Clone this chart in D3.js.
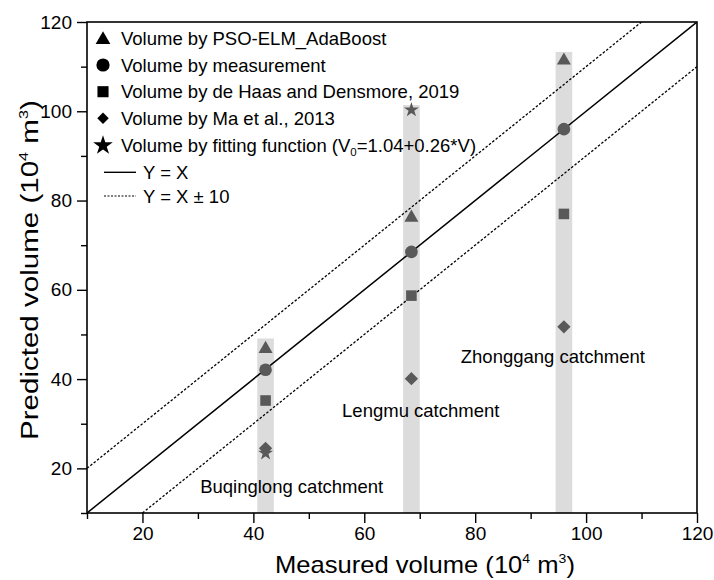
<!DOCTYPE html>
<html>
<head>
<meta charset="utf-8">
<script src="https://cdn.jsdelivr.net/npm/d3@7"></script>
<style>
  body { margin: 0; background: #fff; }
  svg { display: block; }
  text { font-family: "Liberation Sans", Arial, sans-serif; }
</style>
</head>
<body>
<svg id="chart" width="714" height="580"></svg>
<script>
// ---- data ----
const catchments = ["Buqinglong", "Lengmu", "Zhonggang"];
const catchmentLabels = ["Buqinglong catchment", "Lengmu catchment", "Zhonggang catchment"];
const measuredX = [42.2, 68.5, 96.0];
const psoElmAdaBoost = [47.1, 76.5, 111.7];
const measurement = [42.1, 68.5, 96.0];
const deHaas2019 = [35.2, 58.7, 77.0];
const ma2013 = [24.5, 40.1, 51.7];
const fittingFunction = [23.4, 100.3, null];
const barTop = [49.1, 101.4, 113.3];
const labelPos = [[30.4, 14.5], [56.0, 31.5], [77.4, 43.6]]; // data-space anchors (left, baseline) of catchment labels
const xTicksMajor = [20, 40, 60, 80, 100, 120];
const xTicksMinor = [10, 30, 50, 70, 90, 110];
const yTicksMajor = [20, 40, 60, 80, 100, 120];
const yTicksMinor = [10, 30, 50, 70, 90, 110];
const legendItems = [
  {type: "triangle", text: "Volume by PSO-ELM_AdaBoost"},
  {type: "circle", text: "Volume by measurement"},
  {type: "square", text: "Volume by de Haas and Densmore, 2019"},
  {type: "diamond", text: "Volume by Ma et al., 2013"},
  {type: "star", text: "fit"},
  {type: "solid", text: "Y = X"},
  {type: "dotted", text: "Y = X \u00B1 10"}
];

// ---- layout ----
const svg = d3.select("#chart");
const L = 87, R = 697, T = 22, B = 513;
const x = d3.scaleLinear().domain([10, 120]).range([L, R]);
const y = d3.scaleLinear().domain([10, 120]).range([B, T]);
const markerColor = "#595959";
const barColor = "#dcdcdc";
const FS = 18.5;

const g = svg.append("g");
g.append("clipPath").attr("id", "clip").append("rect")
  .attr("x", L).attr("y", T).attr("width", R - L).attr("height", B - T);

// gray bars
g.selectAll("rect.bar").data(measuredX).enter().append("rect")
  .attr("class", "bar")
  .attr("x", (d) => x(d - 1.5))
  .attr("width", (d) => x(d + 1.5) - x(d - 1.5))
  .attr("y", (d, i) => y(barTop[i]))
  .attr("height", (d, i) => y(10) - y(barTop[i]))
  .attr("fill", barColor);

// reference lines
const lines = [
  {pts: [[10, 10], [120, 120]], dash: null},
  {pts: [[10, 20], [110, 120]], dash: "2.5,1.8"},
  {pts: [[20, 10], [120, 110]], dash: "2.5,1.8"}
];
lines.forEach(l => {
  g.append("line")
    .attr("x1", x(l.pts[0][0])).attr("y1", y(l.pts[0][1]))
    .attr("x2", x(l.pts[1][0])).attr("y2", y(l.pts[1][1]))
    .attr("stroke", "#000").attr("stroke-width", l.dash ? 1.3 : 1.5)
    .attr("stroke-dasharray", l.dash)
    .attr("clip-path", "url(#clip)");
});

// markers
function symbolPath(type, s) {
  switch (type) {
    case "triangle": return d3.symbol(d3.symbolTriangle, 85 * s)();
    case "circle": return d3.symbol(d3.symbolCircle, 125 * s)();
    case "square": return d3.symbol(d3.symbolSquare, 112 * s)();
    case "diamond": return d3.symbol(d3.symbolSquare, 88 * s)();
    case "star": return d3.symbol(d3.symbolStar, 70 * s)();
  }
}
const series = [
  {type: "triangle", vals: psoElmAdaBoost},
  {type: "circle", vals: measurement},
  {type: "square", vals: deHaas2019},
  {type: "diamond", vals: ma2013},
  {type: "star", vals: fittingFunction}
];
series.forEach(s => {
  s.vals.forEach((v, i) => {
    if (v == null) return;
    const rot = s.type === "diamond" ? " rotate(45)" : "";
    const dy = s.type === "triangle" ? 1.5 : 0;
    g.append("path")
      .attr("d", symbolPath(s.type, 1))
      .attr("transform", `translate(${x(measuredX[i])},${y(v) + dy})${rot}`)
      .attr("fill", markerColor);
  });
});

// axes frame
svg.append("rect").attr("x", L).attr("y", T).attr("width", R - L).attr("height", B - T)
  .attr("fill", "none").attr("stroke", "#000").attr("stroke-width", 1.6);

svg.append("g").attr("transform", `translate(0,${B})`)
  .call(d3.axisBottom(x).tickValues(xTicksMajor).tickSize(10).tickPadding(4).tickFormat(d3.format("d")));
svg.append("g").attr("transform", `translate(0,${B})`)
  .call(d3.axisBottom(x).tickValues(xTicksMinor).tickSize(6).tickFormat(""));
svg.append("g").attr("transform", `translate(${L},0)`)
  .call(d3.axisLeft(y).tickValues(yTicksMajor).tickSize(10).tickPadding(5).tickFormat(d3.format("d")));
svg.append("g").attr("transform", `translate(${L},0)`)
  .call(d3.axisLeft(y).tickValues(yTicksMinor).tickSize(6).tickFormat(""));
svg.selectAll(".domain").remove();
svg.selectAll(".tick line").attr("stroke", "#000").attr("stroke-width", 1.4);
svg.selectAll(".tick text").attr("font-size", 19).attr("fill", "#000")
  .style("font-family", "'Liberation Sans', Arial, sans-serif");

// axis titles
function titleText(sel, fs, label) {
  sel.attr("font-size", fs).attr("fill", "#000");
  sel.append("tspan").text(label + " (10");
  sel.append("tspan").text("4").attr("font-size", fs * 0.55).attr("dy", -fs * 0.42);
  sel.append("tspan").text(" m").attr("dy", fs * 0.42);
  sel.append("tspan").text("3").attr("font-size", fs * 0.55).attr("dy", -fs * 0.42);
  sel.append("tspan").text(")").attr("dy", fs * 0.42);
  return sel;
}
// x title: centred at 425, width ~300
const xg = svg.append("g");
const xt = titleText(xg.append("text"), 24, "Measured volume");
let bb = xt.node().getBBox();
let sx = 300 / bb.width;
xg.attr("transform", `translate(425,573) scale(${sx},1) translate(${-(bb.x + bb.width / 2)},0)`);

// y title: centred at y=270, length ~340
const yg = svg.append("g");
const yt = titleText(yg.append("text"), 24, "Predicted volume");
bb = yt.node().getBBox();
sx = 340 / bb.width;
yg.attr("transform", `translate(38,270) rotate(-90) scale(${sx},1) translate(${-(bb.x + bb.width / 2)},0)`);

// catchment labels
catchmentLabels.forEach((t, i) => {
  svg.append("text").attr("x", x(labelPos[i][0])).attr("y", y(labelPos[i][1]))
    .attr("font-size", FS).attr("fill", "#000").text(t);
});

// legend
const legCY = [38.3, 65, 91.7, 118.3, 145.5, 172.3, 196];
const symX = 103, txtX = 121;
legendItems.forEach((it, i) => {
  const cy = legCY[i];
  const base = cy + 0.36 * FS;
  if (it.type === "solid" || it.type === "dotted") {
    svg.append("line").attr("x1", 104).attr("x2", 136).attr("y1", cy).attr("y2", cy)
      .attr("stroke", "#000").attr("stroke-width", it.type === "solid" ? 1.4 : 1.2)
      .attr("stroke-dasharray", it.type === "dotted" ? "2,1.5" : null);
    svg.append("text").attr("x", 143).attr("y", base).attr("font-size", FS).attr("fill", "#000").text(it.text);
  } else {
    const rot = it.type === "diamond" ? " rotate(45)" : "";
    const s = it.type === "diamond" ? 0.75 : (it.type === "star" ? 1.7 : 1.1);
    const dy = it.type === "triangle" ? 1.5 : 0;
    svg.append("path").attr("d", symbolPath(it.type, s))
      .attr("transform", `translate(${symX},${cy + dy})${rot}`).attr("fill", "#000");
    const t = svg.append("text").attr("x", txtX).attr("y", base).attr("font-size", FS).attr("fill", "#000");
    if (it.type === "star") {
      t.append("tspan").text("Volume by fitting function (V");
      t.append("tspan").text("0").attr("font-size", FS * 0.62).attr("dy", 4);
      t.append("tspan").text("=1.04+0.26*V)").attr("dy", -4);
    } else {
      t.text(it.text);
    }
  }
});
</script>
</body>
</html>
